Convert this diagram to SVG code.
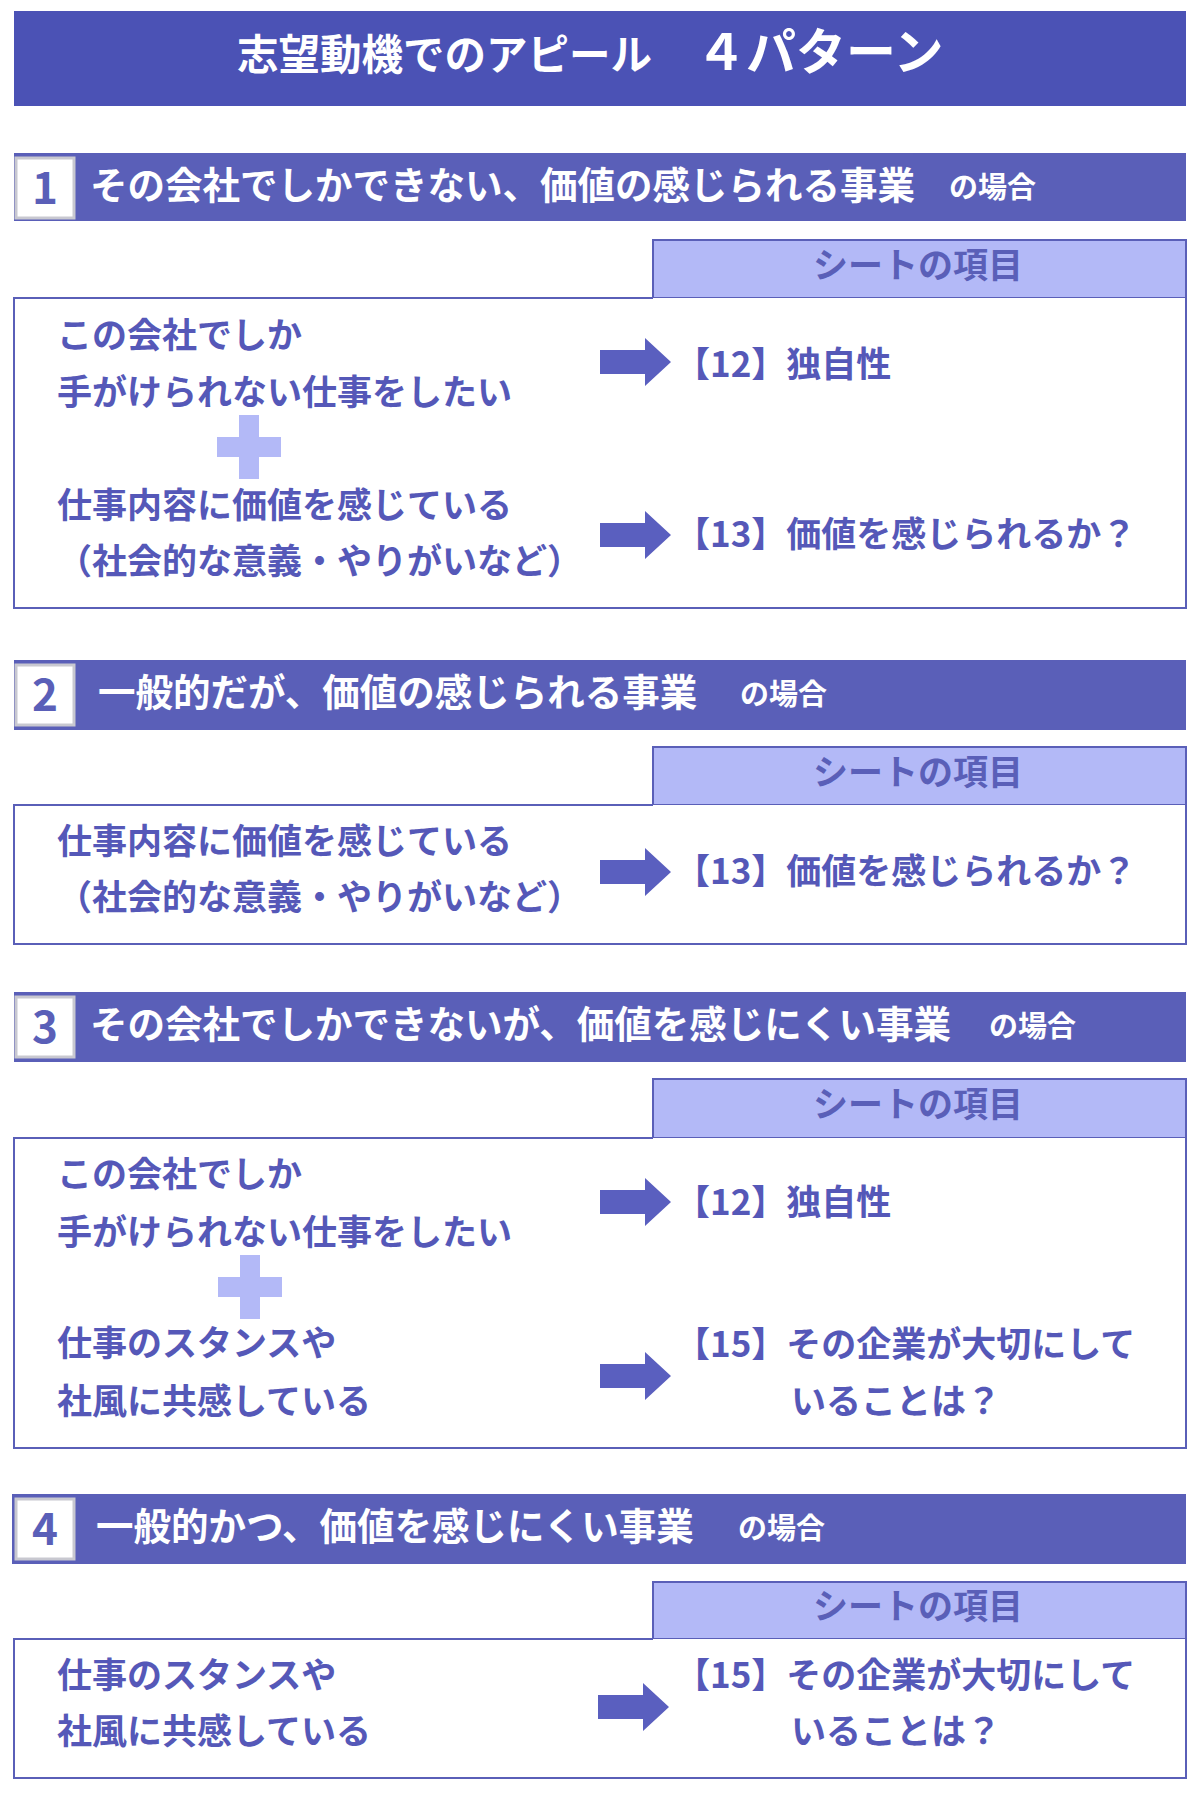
<svg xmlns="http://www.w3.org/2000/svg" width="1200" height="1800" viewBox="0 0 1200 1800">
<defs>
<style>
text{font-family:"Noto Sans CJK JP","Noto Sans",sans-serif;font-weight:bold}
.hd{fill:#5a5fb8}
.num{fill:#fff;stroke:#c8c8d0;stroke-width:3}
.numt{fill:#5a5fb8;font-size:44px;text-anchor:middle}
.ht{fill:#fff;font-size:37.5px}
.hs{fill:#fff;font-size:29px}
.tab{fill:#b3b9f7;stroke:#5a5fb8;stroke-width:2}
.tabt{fill:#5a5fb8;font-size:35px;text-anchor:middle}
.box{fill:#fff;stroke:#5a5fb8;stroke-width:2}
.t{fill:#5558b8;font-size:35px}
.plus{fill:#b3b9f7}
.arr{fill:#5a5fbf}
</style>
<path id="ar" d="M0,-12 H45 V-24 L71,0 L45,24 V12 H0 Z"/>
<path id="pl" d="M-10,-32 H10 V-10 H32 V10 H10 V32 H-10 V10 H-32 V-10 H-10 Z"/>
</defs>
<g id="title">
<rect x="14" y="11" width="1172" height="95" fill="#4b52b5"/>
<text x="237" y="70" fill="#fff" font-size="41.5">志望動機でのアピール</text>
<text x="696" y="70" fill="#fff" font-size="50">４パターン</text>
</g>
<g id="sec1">
<rect class="hd" x="14" y="153" width="1172" height="68"/>
<rect class="num" x="16" y="158" width="58" height="60"/>
<text class="numt" x="45" y="204">1</text>
<text class="ht" x="90" y="199">その会社でしかできない、価値の感じられる事業</text>
<text class="hs" x="949" y="198">の場合</text>
<rect class="tab" x="653" y="240" width="533" height="58"/>
<text class="tabt" x="918" y="278">シートの項目</text>
<path class="box" d="M653,298 H14 V608 H1186 V298"/>
<text class="t" x="57" y="348">この会社でしか</text>
<text class="t" x="57" y="405">手がけられない仕事をしたい</text>
<use href="#pl" class="plus" x="249" y="447"/>
<text class="t" x="57" y="518">仕事内容に価値を感じている</text>
<text class="t" x="57" y="574">（社会的な意義・やりがいなど）</text>
<use href="#ar" class="arr" x="600" y="362"/>
<use href="#ar" class="arr" x="600" y="535"/>
<text class="t" x="675" y="377">【12】独自性</text>
<text class="t" x="675" y="547">【13】価値を感じられるか？</text>
</g>
<g id="sec2">
<rect class="hd" x="14" y="660" width="1172" height="70"/>
<rect class="num" x="16" y="665" width="58" height="60"/>
<text class="numt" x="45" y="711">2</text>
<text class="ht" x="98" y="706">一般的だが、価値の感じられる事業</text>
<text class="hs" x="740" y="705">の場合</text>
<rect class="tab" x="653" y="747" width="533" height="58"/>
<text class="tabt" x="918" y="785">シートの項目</text>
<path class="box" d="M653,805 H14 V944 H1186 V805"/>
<text class="t" x="57" y="854">仕事内容に価値を感じている</text>
<text class="t" x="57" y="910">（社会的な意義・やりがいなど）</text>
<use href="#ar" class="arr" x="600" y="872"/>
<text class="t" x="675" y="884">【13】価値を感じられるか？</text>
</g>
<g id="sec3">
<rect class="hd" x="14" y="992" width="1172" height="70"/>
<rect class="num" x="16" y="997" width="58" height="60"/>
<text class="numt" x="45" y="1043">3</text>
<text class="ht" x="90" y="1038">その会社でしかできないが、価値を感じにくい事業</text>
<text class="hs" x="989" y="1037">の場合</text>
<rect class="tab" x="653" y="1079" width="533" height="59"/>
<text class="tabt" x="918" y="1117">シートの項目</text>
<path class="box" d="M653,1138 H14 V1448 H1186 V1138"/>
<text class="t" x="57" y="1187">この会社でしか</text>
<text class="t" x="57" y="1245">手がけられない仕事をしたい</text>
<use href="#pl" class="plus" x="250" y="1287"/>
<text class="t" x="57" y="1356">仕事のスタンスや</text>
<text class="t" x="57" y="1414">社風に共感している</text>
<use href="#ar" class="arr" x="600" y="1202"/>
<use href="#ar" class="arr" x="600" y="1376"/>
<text class="t" x="675" y="1215">【12】独自性</text>
<text class="t" x="675" y="1357">【15】その企業が大切にして</text>
<text class="t" x="791" y="1414">いることは？</text>
</g>
<g id="sec4">
<rect class="hd" x="12" y="1494" width="1174" height="70"/>
<rect class="num" x="16" y="1499" width="58" height="60"/>
<text class="numt" x="45" y="1545">4</text>
<text class="ht" x="96" y="1540">一般的かつ、価値を感じにくい事業</text>
<text class="hs" x="738" y="1539">の場合</text>
<rect class="tab" x="653" y="1582" width="533" height="57"/>
<text class="tabt" x="918" y="1619">シートの項目</text>
<path class="box" d="M653,1639 H14 V1778 H1186 V1639"/>
<text class="t" x="57" y="1688">仕事のスタンスや</text>
<text class="t" x="57" y="1744">社風に共感している</text>
<use href="#ar" class="arr" x="598" y="1707"/>
<text class="t" x="675" y="1688">【15】その企業が大切にして</text>
<text class="t" x="791" y="1744">いることは？</text>
</g>
<g id="connectors"></g>
</svg>
